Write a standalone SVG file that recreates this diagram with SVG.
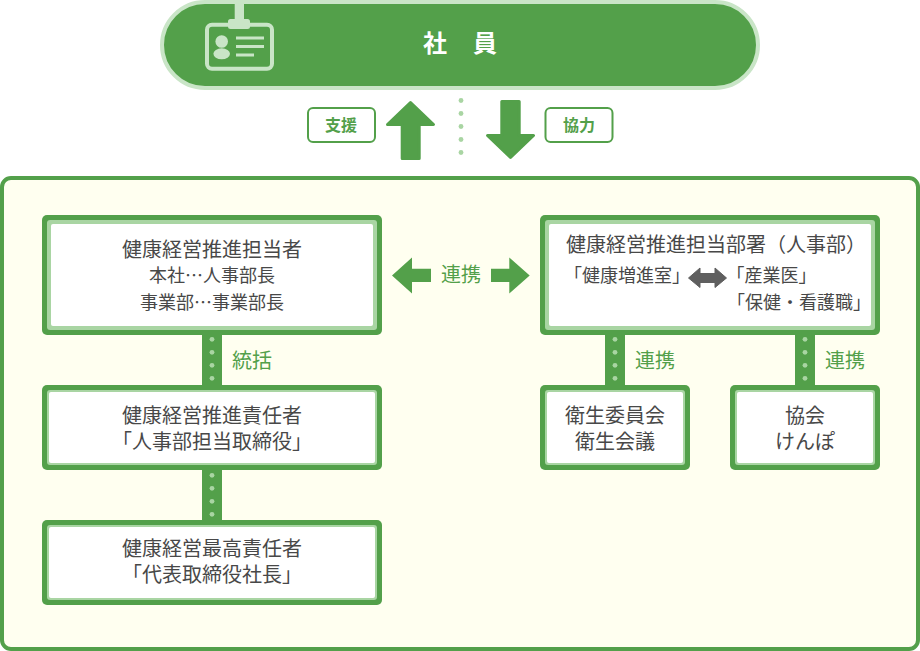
<svg xmlns="http://www.w3.org/2000/svg" width="920" height="651" viewBox="0 0 920 651">
<style>
text{font-family:"Noto Sans CJK JP","Noto Sans",sans-serif;fill:#484848;text-anchor:middle}
.t20{font-size:20px}.t18{font-size:18px}
.s{text-anchor:start}
.g{fill:#53a04a;font-size:20px}
.lb{fill:#53a04a;font-size:16px;font-weight:700}
.o{fill:#53a04a}.m{fill:#a9d5a3}.w{fill:#fff}
.bar{fill:#53a04a}.dot{fill:#a9d5a3}
.ic{fill:#c9e5c7}
.arr{fill:#53a04a;stroke:#53a04a;stroke-width:3;stroke-linejoin:round}
</style>
<g id="employee">
<rect x="162" y="2" width="596" height="86" rx="43" fill="#53a04a" stroke="#c9e5c7" stroke-width="4"/>
<rect x="207" y="24.700" width="65" height="44" rx="5" fill="none" stroke="#c9e5c7" stroke-width="4"/>
<rect class="ic" x="234.700" y="0" width="9.300" height="22"/>
<rect class="ic" x="228" y="19" width="22" height="10" rx="2.500"/>
<circle class="ic" cx="221.700" cy="41.500" r="6.300"/>
<ellipse class="ic" cx="221.700" cy="53.800" rx="8.300" ry="5.500"/>
<rect class="ic" x="236" y="36.500" width="28" height="3"/>
<rect class="ic" x="236" y="45" width="28" height="3"/>
<rect class="ic" x="236" y="53.500" width="18" height="3"/>
<text x="435" y="52" style="fill:#fff;font-size:24px;font-weight:700">社</text>
<text x="485" y="52" style="fill:#fff;font-size:24px;font-weight:700">員</text>
</g>
<g id="panel">
<rect x="2" y="178" width="916" height="471" rx="9" fill="#fffff0" stroke="#53a04a" stroke-width="4"/>
</g>
<g id="connectors">
<path class="arr" d="M410.500 102.500 433.500 124.500H419.200V158.500H402.200V124.500H387.500Z"/>
<path class="arr" d="M510.500 157.500 533.500 135.500H519.200V101.500H501.800V135.500H487.500Z"/>
<g class="dot">
<circle cx="461" cy="100.500" r="2.400"/><circle cx="461" cy="113.500" r="2.400"/><circle cx="461" cy="126.500" r="2.400"/><circle cx="461" cy="139.500" r="2.400"/><circle cx="461" cy="152.500" r="2.400"/>
</g>
<path fill="#53a04a" d="M392 275.500 412 257.500V268.700H431V282H412V293.500Z"/>
<path fill="#53a04a" d="M529.700 275.500 509.300 257.500V268.700H491V282H509.300V293.500Z"/>
<rect class="bar" x="202" y="333" width="20" height="54"/>
<rect class="bar" x="202" y="468" width="20" height="54"/>
<rect class="bar" x="605" y="333" width="20" height="54"/>
<rect class="bar" x="795" y="333" width="20" height="54"/>
<g class="dot">
<circle cx="212" cy="339.300" r="2.400"/><circle cx="212" cy="352.300" r="2.400"/><circle cx="212" cy="365.300" r="2.400"/><circle cx="212" cy="378.300" r="2.400"/>
<circle cx="212" cy="475.300" r="2.400"/><circle cx="212" cy="488.300" r="2.400"/><circle cx="212" cy="501.300" r="2.400"/><circle cx="212" cy="514.300" r="2.400"/>
<circle cx="615" cy="339.300" r="2.400"/><circle cx="615" cy="352.300" r="2.400"/><circle cx="615" cy="365.300" r="2.400"/><circle cx="615" cy="378.300" r="2.400"/>
<circle cx="805" cy="339.300" r="2.400"/><circle cx="805" cy="352.300" r="2.400"/><circle cx="805" cy="365.300" r="2.400"/><circle cx="805" cy="378.300" r="2.400"/>
</g>
<text class="g" x="461" y="282">連携</text>
<text class="g" x="252" y="368">統括</text>
<text class="g" x="655" y="368">連携</text>
<text class="g" x="845" y="368">連携</text>
</g>
<g id="label-support">
<rect x="308" y="108" width="67" height="34" rx="5" fill="#fff" stroke="#53a04a" stroke-width="2"/>
<text class="lb" x="341" y="131">支援</text>
</g>
<g id="label-cooperate">
<rect x="545.500" y="108" width="67" height="34" rx="5" fill="#fff" stroke="#53a04a" stroke-width="2"/>
<text class="lb" x="579" y="131">協力</text>
</g>
<g id="node-promoter">
<rect class="o" x="42" y="215" width="340" height="120" rx="5"/>
<rect class="m" x="47" y="220" width="330" height="110" rx="3"/>
<rect class="w" x="51" y="224" width="322" height="102" rx="2"/>
<text class="t20" x="212" y="257">健康経営推進担当者</text>
<text class="t18" x="212" y="282">本社…人事部長</text>
<text class="t18" x="212" y="309">事業部…事業部長</text>
</g>
<g id="node-dept">
<rect class="o" x="540" y="215" width="340" height="120" rx="5"/>
<rect class="m" x="545" y="220" width="330" height="110" rx="3"/>
<rect class="w" x="549" y="224" width="322" height="102" rx="2"/>
<text class="t20" x="716" y="252">健康経営推進担当部署（人事部）</text>
<text class="t18 s" x="564" y="282">「健康増進室」</text>
<path fill="#5f5f5f" stroke="#5f5f5f" stroke-width="1" stroke-linejoin="round" d="M688.500 278 700 268V273.500H715V268L726.500 278 715 287.500V282.500H700V287.500Z"/>
<text class="t18 s" x="726.500" y="282">「産業医」</text>
<text class="t18 s" x="727" y="309">「保健・看護職」</text>
</g>
<g id="node-responsible">
<rect class="o" x="42" y="385" width="340" height="85" rx="5"/>
<rect class="m" x="47" y="390" width="330" height="75" rx="3"/>
<rect class="w" x="49" y="392" width="326" height="71" rx="2"/>
<text class="t20" x="212" y="423">健康経営推進責任者</text>
<text class="t20" x="212" y="449">「人事部担当取締役」</text>
</g>
<g id="node-chief">
<rect class="o" x="42" y="520" width="340" height="85" rx="5"/>
<rect class="m" x="47" y="525" width="330" height="75" rx="3"/>
<rect class="w" x="49" y="527" width="326" height="71" rx="2"/>
<text class="t20" x="212" y="556">健康経営最高責任者</text>
<text class="t20" x="212" y="582">「代表取締役社長」</text>
</g>
<g id="node-committee">
<rect class="o" x="540" y="385" width="150" height="85" rx="5"/>
<rect class="m" x="545" y="390" width="140" height="75" rx="3"/>
<rect class="w" x="547" y="392" width="136" height="71" rx="2"/>
<text class="t20" x="615" y="423">衛生委員会</text>
<text class="t20" x="615" y="449">衛生会議</text>
</g>
<g id="node-association">
<rect class="o" x="730" y="385" width="150" height="85" rx="5"/>
<rect class="m" x="735" y="390" width="140" height="75" rx="3"/>
<rect class="w" x="737" y="392" width="136" height="71" rx="2"/>
<text class="t20" x="805" y="423">協会</text>
<text class="t20" x="805" y="449">けんぽ</text>
</g>
</svg>
